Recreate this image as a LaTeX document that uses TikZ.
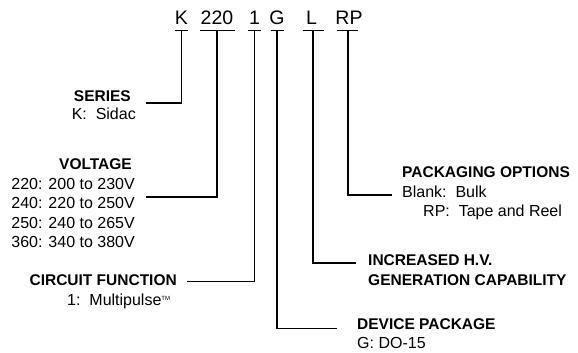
\documentclass[tikz,border=0pt]{standalone}
\usepackage{fontspec}
\setmainfont{Liberation Sans}

\tikzset{
    code/.style={inner sep=0pt, anchor=base, font=\fontsize{19.5}{20}\selectfont},
    head/.style={inner sep=0pt, font=\bfseries\fontsize{15.5}{16}\selectfont},
    item/.style={inner sep=0pt, font=\fontsize{16}{17}\selectfont},
    lead/.style={line width=1.1pt},
}

\begin{document}
\begin{tikzpicture}[x=1pt, y=-1pt]
\useasboundingbox (0, 0) rectangle (578, 353);

% part number
\node[code] (cK)   at (181.5, 25) {K};
\node[code] (c220) at (217, 25)   {220};
\node[code] (c1)   at (254.5, 25) {1};
\node[code] (cG)   at (277, 25)   {G};
\node[code] (cL)   at (311.5, 25) {L};
\node[code] (cRP)  at (349, 25)   {RP};

% bars under the part number
\coordinate (bK)   at (181.5, 30.5);
\coordinate (b220) at (217, 30.5);
\coordinate (b1)   at (254.5, 30.5);
\coordinate (bG)   at (277, 30.5);
\coordinate (bL)   at (313, 30.5);
\coordinate (bRP)  at (348, 30.5);
\draw[lead] ([xshift=-6.5pt]bK)   -- ([xshift=6.5pt]bK);
\draw[lead] ([xshift=-17.5pt]b220) -- ([xshift=17.5pt]b220);
\draw[lead] ([xshift=-6.5pt]b1)   -- ([xshift=6.5pt]b1);
\draw[lead] ([xshift=-6.5pt]bG)   -- ([xshift=6.5pt]bG);
\draw[lead] ([xshift=-10.5pt]bL)  -- ([xshift=10.5pt]bL);
\draw[lead] ([xshift=-11pt]bRP)   -- ([xshift=10pt]bRP);

% series
\node[head, anchor=base east] (series) at (131, 101) {SERIES};
\node[item, anchor=base east] (seriesK) at (136, 119) {K:\ \ Sidac};
\coordinate (lSeries) at (146, 103);
\draw[lead] (bK) |- (lSeries);

% voltage
\node[head, anchor=base east] (volt) at (132, 169) {VOLTAGE};
\node[item, anchor=base east] (v220) at (135, 189) {220: 200 to 230V};
\node[item, anchor=base east] (v240) at (135, 208.5) {240: 220 to 250V};
\node[item, anchor=base east] (v250) at (135, 228) {250: 240 to 265V};
\node[item, anchor=base east] (v360) at (135, 247.5) {360: 340 to 380V};
\coordinate (lVolt) at (146, 197);
\draw[lead] (b220) |- (lVolt);

% circuit function
\node[head, anchor=base east] (circ) at (177, 285) {CIRCUIT FUNCTION};
\node[item, anchor=base west] (circ1) at (67, 305) {1:\ \ Multipulse\raisebox{5pt}{\fontsize{6}{6}\selectfont TM}};
\coordinate (lCirc) at (187, 281.5);
\draw[lead] (b1) |- (lCirc);

% device package
\node[head, anchor=base west] (pkg) at (357, 329) {DEVICE PACKAGE};
\node[item, anchor=base west] (pkgG) at (357, 348) {G: DO-15};
\coordinate (lPkg) at (337, 328.5);
\draw[lead] (bG) |- (lPkg);

% increased h.v.
\node[head, anchor=base west] (hv) at (368, 265) {INCREASED H.V.};
\node[head, anchor=base west] (hv2) at (368, 285) {GENERATION CAPABILITY};
\coordinate (lHv) at (356, 263);
\draw[lead] (bL) |- (lHv);

% packaging options
\node[head, anchor=base west] (opt) at (402, 177) {PACKAGING OPTIONS};
\node[item, anchor=base west] (optB) at (402, 197) {Blank:\ \ Bulk};
\node[item, anchor=base west] (optRP) at (423, 216) {RP:\ \ Tape and Reel};
\coordinate (lOpt) at (392, 195);
\draw[lead] (bRP) |- (lOpt);
\end{tikzpicture}
\end{document}
